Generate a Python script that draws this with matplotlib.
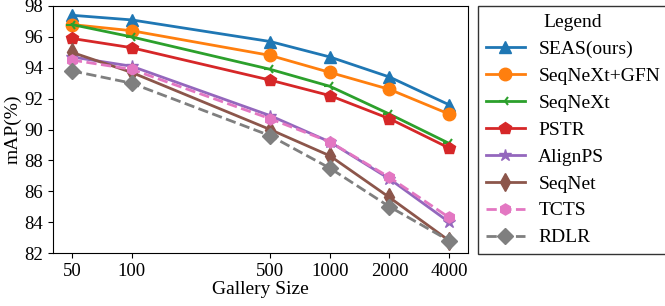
import matplotlib
matplotlib.use("Agg")
import matplotlib.pyplot as plt

plt.rcParams['font.family'] = ['Liberation Serif', 'DejaVu Serif']
plt.rcParams['mathtext.fontset'] = 'stix'

gallery = [50, 100, 500, 1000, 2000, 4000]
names = ["SEAS(ours)", "SeqNeXt+GFN", "SeqNeXt", "PSTR", "AlignPS", "SeqNet", "TCTS", "RDLR"]
seas = [97.4, 97.1, 95.7, 94.7, 93.4, 91.6]
seqnext_gfn = [96.8, 96.4, 94.8, 93.7, 92.6, 91.0]
seqnext = [96.8, 96.0, 93.9, 92.8, 91.0, 89.1]
pstr = [95.9, 95.3, 93.2, 92.2, 90.7, 88.8]
alignps = [94.7, 94.1, 90.9, 89.2, 86.8, 84.0]
seqnet = [95.0, 93.7, 90.0, 88.3, 85.6, 82.8]
tcts = [94.5, 93.9, 90.7, 89.2, 86.9, 84.3]
rdlr = [93.8, 93.0, 89.6, 87.5, 85.0, 82.8]
series = [seas, seqnext_gfn, seqnext, pstr, alignps, seqnet, tcts, rdlr]

colors = ['#1f77b4', '#ff7f0e', '#2ca02c', '#d62728', '#9467bd', '#8c564b', '#e377c2', '#7f7f7f']
markers = ['^', 'o', '3', 'p', '*', 'd', 'h', 'D']
styles = ['-', '-', '-', '-', '-', '-', '--', '--']
msizes = [9, 9, 8, 9, 9, 9, 8, 8]

fig = plt.figure(figsize=(6.65, 3.06), dpi=100)
ax = fig.add_axes([53/665, 1-253/306, (468-53)/665, (253-6)/306])

handles = []
for name, vals, c, m, ls, ms in zip(names, series, colors, markers, styles, msizes):
    h, = ax.plot(gallery, vals, color=c, marker=m, linestyle=ls, linewidth=2,
                 markersize=ms, label=name, markeredgewidth=1.5 if m == '3' else 1.0)
    handles.append(h)

ax.set_xscale('log')
ax.set_xticks(gallery)
ax.set_xticklabels([str(g) for g in gallery])
ax.minorticks_off()
ax.set_ylim(82, 98)
ax.set_yticks([82, 84, 86, 88, 90, 92, 94, 96, 98])
ax.tick_params(labelsize=13.5)
ax.set_xlabel("Gallery Size", fontsize=14, labelpad=1)
ax.set_ylabel("mAP(%)", fontsize=14, labelpad=2)

leg = fig.legend(handles=handles, loc='upper left', bbox_to_anchor=(478/665, 1-6/306),
                 fontsize=14, title="Legend", title_fontsize=14, fancybox=False,
                 edgecolor='0.2', framealpha=1, borderaxespad=0, labelspacing=0.48,
                 handletextpad=0.7)
leg.get_frame().set_linewidth(1.0)

fig.savefig("out.png", dpi=100)
